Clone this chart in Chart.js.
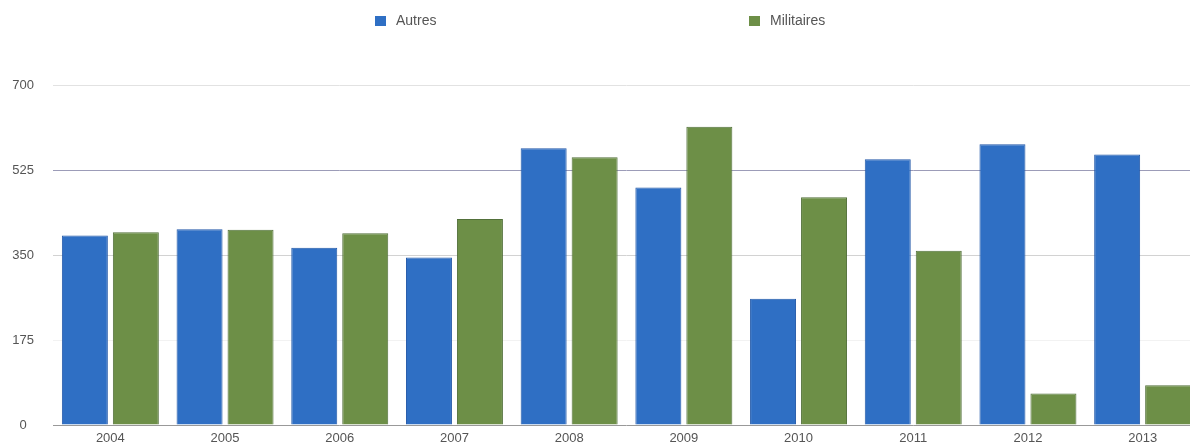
<!DOCTYPE html>
<html>
<head>
<meta charset="utf-8">
<script src="https://cdn.jsdelivr.net/npm/chart.js@4/dist/chart.umd.min.js"></script>
<style>
  html, body { margin: 0; padding: 0; background: #fff; overflow: hidden; }
  #wrap { position: relative; width: 1190px; height: 446px; overflow: hidden; }
  #chart { position: absolute; left: 0; top: 0; }
  .legend { position: absolute; top: 12px; font: 14px "Liberation Sans", Arial, sans-serif; color: #555; z-index: 2; }
  .legend span.box { display: inline-block; width: 11px; height: 10px; margin-right: 10px; vertical-align: -1px; }
</style>
</head>
<body>
<div id="wrap">
  <div class="legend" style="left:375px"><span class="box" style="background:#2f6fc4"></span>Autres</div>
  <div class="legend" style="left:749px"><span class="box" style="background:#6d8f47"></span>Militaires</div>
  <canvas id="chart" width="1200" height="446"></canvas>
</div>
<script>
const years = ['2004', '2005', '2006', '2007', '2008', '2009', '2010', '2011', '2012', '2013'];
const autres = [390, 403, 365, 345, 570, 489, 260, 547, 578, 557];
const militaires = [397, 402, 395, 424, 551, 614, 469, 359, 65, 82];
const yTicks = [0, 175, 350, 525, 700];

// gridline shades as they appear on the scan
const gridColors = { 0: '#999999', 175: '#f2f2f2', 350: '#d2d2d2', 525: '#9c9cb8', 700: '#e2e2e2' };

const data = {
    labels: years,
    datasets: [{
        label: 'Autres',
        data: autres,
        backgroundColor: '#2f6fc4',
        borderColor: '#2258a8',
        borderWidth: 1
    }, {
        label: 'Militaires',
        data: militaires,
        backgroundColor: '#6d8f47',
        borderColor: '#52703a',
        borderWidth: 1
    }]
};

const config = {
    type: 'bar',
    data: data,
    options: {
        responsive: false,
        animation: false,
        layout: { padding: { top: 85, right: 0, left: 0, bottom: 0 } },
        datasets: {
            bar: { categoryPercentage: 0.889, barPercentage: 0.902 }
        },
        plugins: {
            legend: { display: false },
            tooltip: { enabled: false }
        },
        scales: {
            x: {
                grid: { display: false, drawTicks: false },
                border: { display: false },
                ticks: {
                    padding: 6,
                    color: '#555',
                    font: { family: 'Liberation Sans', size: 13 }
                },
                afterFit: scale => { scale.height = 21; }
            },
            y: {
                min: 0,
                max: 700,
                afterBuildTicks: scale => { scale.ticks = yTicks.map(v => ({ value: v })); },
                grid: {
                    drawTicks: false,
                    color: ctx => gridColors[ctx.tick.value] || '#ddd'
                },
                border: { display: false },
                ticks: {
                    padding: 19,
                    crossAlign: 'center',
                    color: '#555',
                    font: { family: 'Liberation Sans', size: 13 }
                },
                afterFit: scale => {
                    scale.width = 53;
                    // label padding should not push the plot area up
                    scale.paddingTop = 0;
                    scale.paddingBottom = 0;
                }
            }
        }
    }
};

new Chart(document.getElementById('chart'), config);
</script>
</body>
</html>
